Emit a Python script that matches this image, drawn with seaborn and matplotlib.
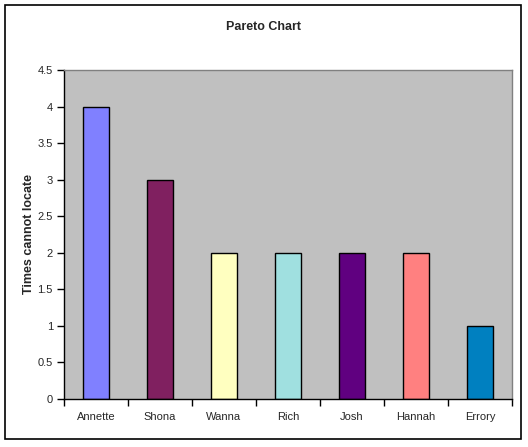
import matplotlib
matplotlib.use("Agg")
import matplotlib.pyplot as plt
import seaborn as sns
import pandas as pd
from matplotlib.patches import Rectangle

# データ
names = ['Annette', 'Shona', 'Wanna', 'Rich', 'Josh', 'Hannah', 'Errory']
counts = [4, 3, 2, 2, 2, 2, 1]
colors = ['#8080FF', '#802060', '#FFFFC0', '#A0E0E0', '#600080', '#FF8080', '#0080C0']
y_ticks = [0, 0.5, 1, 1.5, 2, 2.5, 3, 3.5, 4, 4.5]

df = pd.DataFrame({'Name': names, 'Count': counts})

sns.set_style('white')
plt.rcParams['font.family'] = ['Liberation Sans', 'DejaVu Sans']

fig = plt.figure(figsize=(5.28, 4.47), dpi=100)
ax = fig.add_axes([64 / 528, 1 - 399 / 447, 448 / 528, 329 / 447])
ax.set_facecolor('#C0C0C0')

sns.barplot(x='Name', y='Count', data=df, hue='Name', palette=colors,
            legend=False, width=0.42, edgecolor='black', linewidth=1,
            saturation=1, ax=ax)

ax.set_xlim(-0.5, len(names) - 0.5)
ax.set_ylim(0, 4.5)
ax.set_yticks(y_ticks)
ax.set_yticklabels([f'{v:g}' for v in y_ticks], fontsize=8)
ax.tick_params(axis='y', direction='out', length=5, width=1, color='black', left=True, pad=3)
ax.tick_params(axis='x', which='major', length=0, labelsize=8, pad=9)
ax.set_xticks([i - 0.5 for i in range(len(names) + 1)], minor=True)
ax.tick_params(axis='x', which='minor', direction='out', length=5, width=1, color='black', bottom=True)

for s in ['left', 'bottom']:
    ax.spines[s].set_color('black')
    ax.spines[s].set_linewidth(1)
for s in ['top', 'right']:
    ax.spines[s].set_color('#808080')
    ax.spines[s].set_linewidth(1)

ax.set_xlabel('')
ax.set_ylabel('Times cannot locate', fontsize=9, fontweight='bold', labelpad=1.5)
fig.text(0.5, 1 - 27 / 447, 'Pareto Chart', ha='center', va='center',
         fontsize=9, fontweight='bold')

# 外枠
fig.patches.append(Rectangle((5 / 528, 1 - 439 / 447), 516 / 528, 434 / 447,
                             transform=fig.transFigure, fill=False,
                             edgecolor='black', linewidth=1.2))

fig.savefig('out.png', dpi=100)
